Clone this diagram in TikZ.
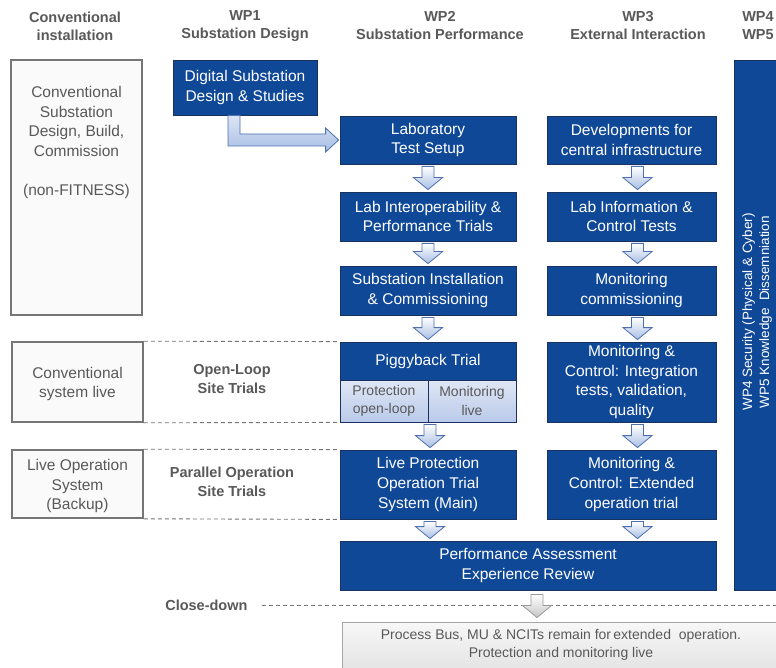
\documentclass[tikz,border=0pt]{standalone}
\usepackage{fontspec}
\setmainfont{Liberation Sans}
\usetikzlibrary{calc}
\definecolor{wpblue}{RGB}{16,72,152}
\definecolor{wpedge}{RGB}{25,50,95}
\definecolor{txtgray}{RGB}{89,89,89}
\definecolor{boxgray}{RGB}{118,118,118}
\definecolor{arrowfill}{RGB}{168,190,228}
\definecolor{arrowedge}{RGB}{78,112,176}
\definecolor{subfill}{RGB}{186,202,234}
\tikzset{
 wpbox/.style={draw=wpedge, line width=0.8pt, fill=wpblue, text=white, align=center, inner sep=0pt, font=\fontsize{15.5}{19.8}\selectfont},
 convbox/.style={draw=boxgray, line width=1.6pt, fill=gray!4, inner sep=0pt},
 convtext/.style={text=txtgray, align=center, font=\fontsize{15.5}{19.5}\selectfont},
 hdr/.style={text=txtgray, align=center, font=\bfseries\fontsize{14.5}{18}\selectfont},
 sidelbl/.style={text=txtgray, align=center, font=\bfseries\fontsize{14.5}{18.5}\selectfont},
 subbox/.style={draw=wpedge, line width=0.6pt, top color=subfill!45, bottom color=subfill, text=txtgray, align=center, inner sep=0pt, font=\fontsize{14}{18.5}\selectfont},
 rowline/.style={draw=boxgray, dash pattern=on 4pt off 3pt, line width=0.9pt},
 blockarrow/.style={draw=arrowedge, line width=0.8pt, top color=white, bottom color=arrowfill},
 grayarrow/.style={draw=gray!80, line width=0.8pt, top color=white, bottom color=gray!45},
}
% #1 style, #2 x offset, #3 upper node, #4 lower node, #5 gap
\newcommand\dnarrow[5]{%
 \path[#1] let \p1=($(#3.south)+(#2,0)$), \p2=(#4.north) in
 (\x1-6pt,\y1-#5) -- (\x1+6pt,\y1-#5) -- (\x1+6pt,\y2+#5+12pt) -- (\x1+14.5pt,\y2+#5+12pt)
 -- (\x1,\y2+#5) -- (\x1-14.5pt,\y2+#5+12pt) -- (\x1-6pt,\y2+#5+12pt) -- cycle;}
\begin{document}
\begin{tikzpicture}[x=1pt,y=-1pt]
\useasboundingbox (0,0) rectangle (776,668);
\clip (0,0) rectangle (776,668);
\fill[white] (0,0) rectangle (776,668);
% headers
\node[hdr] (h0) at (75,26) {Conventional\\installation};
\node[hdr] (h1) at (245,26) {WP1\\Substation Design};
\node[hdr] (h2) at (440,26) {WP2\\Substation Performance};
\node[hdr] (h3) at (638,26) {WP3\\External Interaction};
\node[hdr, align=left] (h4) at (758,26) {WP4\\WP5};
% left conventional boxes
\node[convbox, minimum width=131pt, minimum height=255pt] (c1) at (76.5,187.5) {};
\node[convtext, anchor=north] (c1t) at ($(c1.north)+(0,24)$) {Conventional\\Substation\\Design, Build,\\Commission\\[19.5pt](non-FITNESS)};
\node[convbox, minimum width=131pt, minimum height=80pt] (c2) at (77.5,382) {};
\node[convtext] at ($(c2)+(0,2)$) {Conventional\\system live};
\node[convbox, minimum width=131pt, minimum height=68pt] (c3) at (77.5,484) {};
\node[convtext] at ($(c3)+(0,2)$) {Live Operation\\System\\(Backup)};
% WP1
\node[wpbox, minimum width=144pt, minimum height=55pt] (dig) at (245,87.5) {Digital Substation\\Design \& Studies};
% WP2
\node[wpbox, minimum width=176pt, minimum height=48pt] (lab) at (428,140) {Laboratory\\Test Setup};
\node[wpbox, minimum width=176pt, minimum height=49pt] (inter) at (428,216.5) {Lab Interoperability \&\\Performance Trials};
\node[wpbox, minimum width=176pt, minimum height=49pt] (inst) at (428,290.5) {Substation Installation\\\& Commissioning};
\node[wpbox, minimum width=176pt, minimum height=38pt] (pig) at (428,361) {Piggyback Trial};
\node[subbox, minimum width=88pt, minimum height=42pt] (prot) at (384,401) {Protection\\open-loop};
\node[subbox, minimum width=88pt, minimum height=42pt] (mon) at (472,401) {Monitoring\\live};
\node[draw=wpedge, line width=0.8pt, minimum width=176pt, minimum height=80pt, inner sep=0pt] (pigall) at (428,382) {};
\node[wpbox, minimum width=176pt, minimum height=69pt] (live) at (428,484.5) {Live Protection\\Operation Trial\\System (Main)};
% WP3
\node[wpbox, minimum width=169pt, minimum height=48pt] (dev) at (631.5,140) {Developments for\\central infrastructure};
\node[wpbox, minimum width=169pt, minimum height=49pt] (linfo) at (631.5,216.5) {Lab Information \&\\Control Tests};
\node[wpbox, minimum width=169pt, minimum height=49pt] (mcom) at (631.5,290.5) {Monitoring\\commissioning};
\node[wpbox, minimum width=169pt, minimum height=80pt] (mint) at (631.5,382) {Monitoring \&\\Control: Integration\\tests, validation,\\quality};
\node[wpbox, minimum width=169pt, minimum height=69pt] (mext) at (631.5,484.5) {Monitoring \&\\Control: Extended\\operation trial};
% performance
\node[wpbox, minimum width=376pt, minimum height=49pt] (perf) at (528,565.5) {Performance Assessment\\Experience Review};
% WP4/WP5 bar
\node[wpbox, minimum width=46pt, minimum height=530pt] (bar) at (757,325) {};
\node[rotate=90, text=white, align=center, font=\fontsize{13.5}{17}\selectfont] (bart) at (757,312) {WP4 Security (Physical \& Cyber)\\WP5 Knowledge\ \ Dissemniation};
% row labels and dashed rules
\node[sidelbl] (ol) at (232,379) {Open-Loop\\Site Trials};
\node[sidelbl] (po) at (232,482) {Parallel Operation\\Site Trials};
\draw[rowline] (c2.north east) -- (pigall.north west);
\draw[rowline] (c2.south east) -- (pigall.south west);
\draw[rowline] (c3.north east) -- (live.north west);
\draw[rowline] (c3.south east) -- (live.south west);
% WP1 -> WP2 L-shaped arrow
\path[blockarrow, top color=arrowfill!40, bottom color=arrowfill] let \p1=(dig.south), \p2=(lab.west) in
 (\x1-17pt,\y1) -- (\x1-17pt,\y2-6pt) -- (\x2-14pt,\y2-6pt) -- (\x2-14pt,\y2-12pt) -- (\x2-1pt,\y2)
 -- (\x2-14pt,\y2+12pt) -- (\x2-14pt,\y2+6pt) -- (\x1-5pt,\y2+6pt) -- (\x1-5pt,\y1) -- cycle;
% down arrows
\dnarrow{blockarrow}{0}{lab}{inter}{2pt}
\dnarrow{blockarrow}{0}{inter}{inst}{2pt}
\dnarrow{blockarrow}{0}{inst}{pigall}{2pt}
\dnarrow{blockarrow}{2}{pigall}{live}{2pt}
\dnarrow{blockarrow}{2}{live}{perf}{2pt}
\dnarrow{blockarrow}{6}{dev}{linfo}{2pt}
\dnarrow{blockarrow}{6}{linfo}{mcom}{2pt}
\dnarrow{blockarrow}{6}{mcom}{mint}{2pt}
\dnarrow{blockarrow}{6}{mint}{mext}{2pt}
\dnarrow{blockarrow}{6}{mext}{perf}{2pt}
% close-down
\node[sidelbl, anchor=east] (cd) at (251,605) {Close-down};
\node[draw=gray!70, line width=1pt, top color=gray!6, bottom color=gray!22, minimum width=438pt, minimum height=50pt, inner sep=0pt] (fin) at (561,647) {};
\node[text=txtgray, align=center, font=\fontsize{14}{18}\selectfont] (fint) at (561,645) {Process Bus, MU \& NCITs remain for\,extended\ \ operation.\\Protection and monitoring live};
\coordinate (cdr) at (776,605);
\draw[rowline] ($(cd.east)+(11,0)$) -- (cdr);
\dnarrow{grayarrow}{9}{perf}{fin}{4pt}
\end{tikzpicture}
\end{document}
